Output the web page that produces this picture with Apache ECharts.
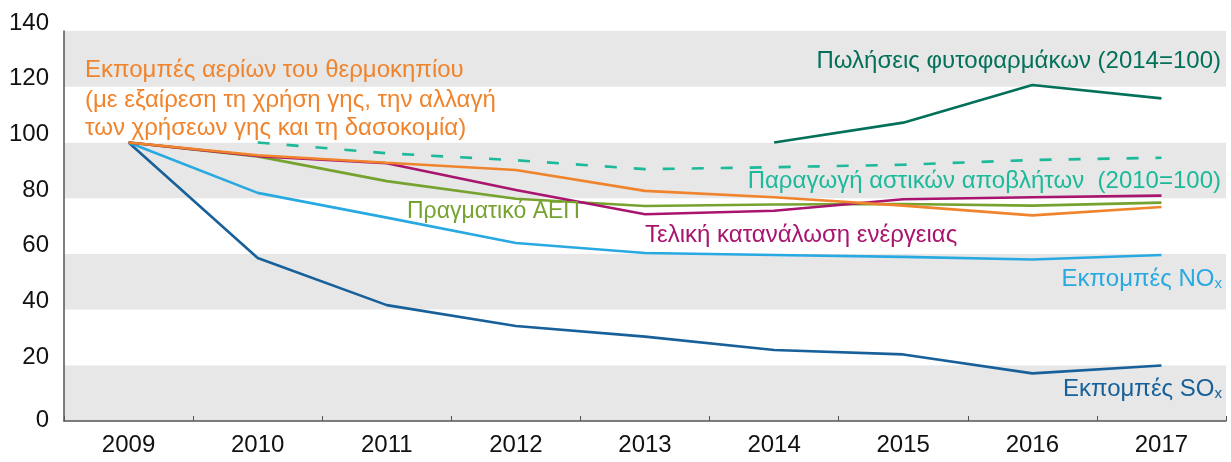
<!DOCTYPE html>
<html><head><meta charset="utf-8">
<script src="https://cdn.jsdelivr.net/npm/echarts@6/dist/echarts.min.js"></script>
<style>html,body{margin:0;padding:0;background:#fff}#c{width:1231px;height:462px}</style>
</head><body><div id="c"></div>
<script>
const years = ['2009','2010','2011','2012','2013','2014','2015','2016','2017'];
const yTicks = [0,20,40,60,80,100,120,140];
const ghg     = [100, 95.4, 92.7, 90.1, 82.6, 80.3, 77.3, 73.8, 76.8];
const energy  = [100, 95.1, 92.5, 82.9, 74.2, 75.5, 79.6, 80.3, 80.9];
const gdp     = [100, 95.0, 86.1, 79.8, 77.2, 77.7, 77.9, 77.3, 78.4];
const nox     = [100, 81.9, 73.0, 63.9, 60.3, 59.6, 58.9, 58.0, 59.6];
const sox     = [100, 58.5, 41.6, 34.1, 30.3, 25.5, 23.9, 17.1, 19.9];
const waste   = [null, 100, 96.1, 93.6, 90.4, 91.1, 92.0, 93.7, 94.5];
const pestic  = [null, null, null, null, null, 100, 107.1, 120.6, 115.8];

const FONT = '"Liberation Sans", Arial, sans-serif';
const C = {ghg:'#f0842c', energy:'#a8146e', gdp:'#76a32f', nox:'#29a9e1', sox:'#17609a', waste:'#1cb99b', pestic:'#03705a'};

function line(name, data, color, dashed){
  return {name, type:'line', data, symbol:'none', smooth:false, connectNulls:false,
    lineStyle:{color, width:2.6, type: dashed ? [12,17] : 'solid'}, z: 3};
}
function label(text, x, y, color, align, size, rich){
  return {type:'text', x, y, z:10, style:{text, fill:color, font:(size||24)+'px '+FONT, align: align||'left', verticalAlign:'middle', rich: rich}};
}
const subRich = (color)=>({s:{fontSize:15, fill:color, fontFamily:'Liberation Sans', verticalAlign:'bottom', lineHeight:13}});

const chart = echarts.init(document.getElementById('c'));
chart.setOption({
  animation:false,
  grid:{left:64, right:5, top:31, bottom:41},
  xAxis:{type:'category', data:years, boundaryGap:true,
    axisLine:{lineStyle:{color:'#555', width:1.5}},
    axisTick:{show:true, inside:true, length:5, lineStyle:{color:'#555'}},
    axisLabel:{color:'#111', fontSize:24, fontFamily:FONT, margin:12}},
  yAxis:{type:'value', min:yTicks[0], max:yTicks[yTicks.length-1], interval:20,
    axisLine:{show:true, lineStyle:{color:'#555', width:1.5}},
    axisTick:{show:false},
    splitLine:{show:false},
    splitArea:{show:true, areaStyle:{color:['#e6e7e6','#ffffff']}},
    axisLabel:{color:'#111', fontSize:24, fontFamily:FONT, margin:15, verticalAlign:'bottom', lineHeight:16,
      formatter: v => v === 0 ? '{z|0}' : String(v),
      rich:{z:{fontSize:24, fontFamily:FONT, color:'#111', lineHeight:2}}}},
  series:[
    line('waste', waste, C.waste, true),
    line('pestic', pestic, C.pestic),
    line('sox', sox, C.sox),
    line('nox', nox, C.nox),
    line('gdp', gdp, C.gdp),
    line('energy', energy, C.energy),
    line('ghg', ghg, C.ghg)
  ],
  graphic:[
    label('Εκπομπές αερίων του θερμοκηπίου', 85, 70, C.ghg),
    label('(με εξαίρεση τη χρήση γης, την αλλαγή', 85, 100, C.ghg),
    label('των χρήσεων γης και τη δασοκομία)', 85, 128, C.ghg),
    label('Πωλήσεις φυτοφαρμάκων (2014=100)', 1221, 61, C.pestic, 'right'),
    label('Παραγωγή αστικών αποβλήτων  (2010=100)', 1221, 181, C.waste, 'right'),
    label('Πραγματικό ΑΕΠ', 407, 212, C.gdp, 'left', 23),
    label('Τελική κατανάλωση ενέργειας', 645, 235, C.energy),
    label('Εκπομπές ΝΟ{s|x}', 1222, 279, C.nox, 'right', 24, subRich(C.nox)),
    label('Εκπομπές SO{s|x}', 1222, 389, C.sox, 'right', 24, subRich(C.sox))
  ]
});
</script></body></html>
